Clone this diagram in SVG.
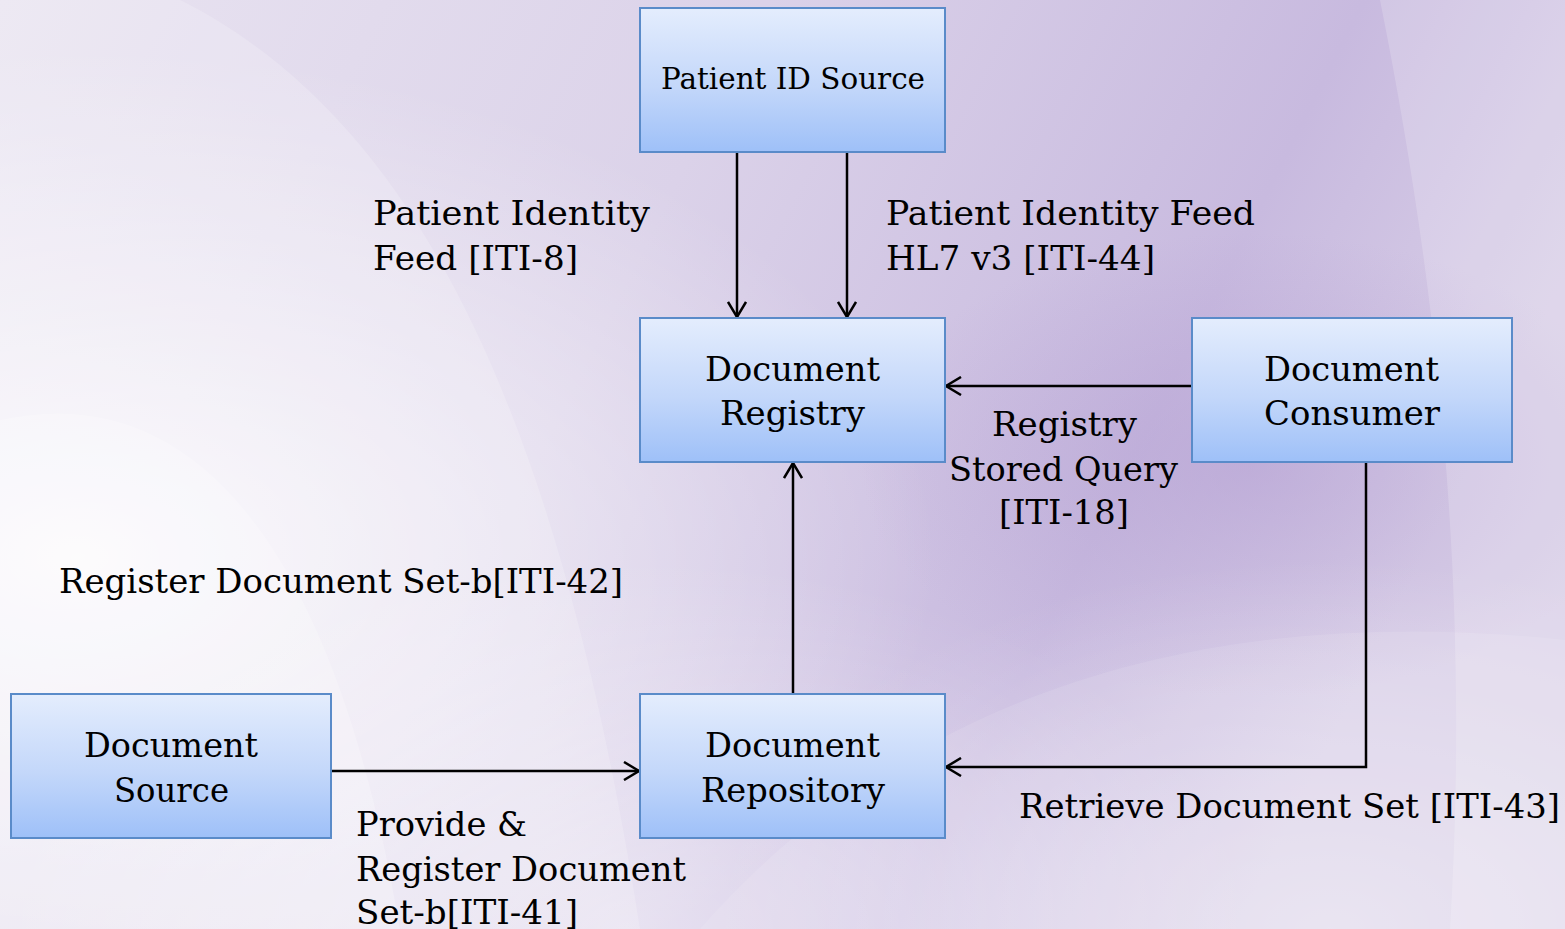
<svg xmlns="http://www.w3.org/2000/svg" width="1565" height="929" viewBox="0 0 1565 929">
  <defs>
    <linearGradient id="bg" x1="0" y1="0" x2="1" y2="0.3">
      <stop offset="0" stop-color="#e9e4f1"/>
      <stop offset="0.45" stop-color="#dbd2e9"/>
      <stop offset="0.8" stop-color="#c8badf"/>
      <stop offset="1" stop-color="#d8cee7"/>
    </linearGradient>
    <radialGradient id="glowL" cx="0.05" cy="0.6" r="0.55">
      <stop offset="0" stop-color="#ffffff" stop-opacity="0.85"/>
      <stop offset="1" stop-color="#ffffff" stop-opacity="0"/>
    </radialGradient>
    <radialGradient id="glowB" cx="0.4" cy="1" r="0.4">
      <stop offset="0" stop-color="#ffffff" stop-opacity="0.5"/>
      <stop offset="1" stop-color="#ffffff" stop-opacity="0"/>
    </radialGradient>
    <radialGradient id="glowBR" cx="0.85" cy="1" r="0.4">
      <stop offset="0" stop-color="#ffffff" stop-opacity="0.4"/>
      <stop offset="1" stop-color="#ffffff" stop-opacity="0"/>
    </radialGradient>
    <radialGradient id="dark" cx="0.8" cy="0.5" r="0.25">
      <stop offset="0" stop-color="#b09ad0" stop-opacity="0.5"/>
      <stop offset="1" stop-color="#b09ad0" stop-opacity="0"/>
    </radialGradient>
    <linearGradient id="box" x1="0" y1="0" x2="0" y2="1">
      <stop offset="0" stop-color="#e4edfd"/>
      <stop offset="0.55" stop-color="#c3d7fa"/>
      <stop offset="1" stop-color="#9ec0f8"/>
    </linearGradient>
    <marker id="arr" viewBox="0 0 20 20" refX="18" refY="10" markerWidth="20" markerHeight="20" markerUnits="userSpaceOnUse" orient="auto">
      <path d="M3,1 L18,10 L3,19" fill="none" stroke="#000" stroke-width="2.5"/>
    </marker>
  </defs>
  <style>
    .node rect { fill: url(#box); stroke: #5a8bc9; stroke-width: 2; }
    .t { font-family: "DejaVu Serif", "Liberation Serif", serif; font-size: 33px; fill: #000; }
    .s { font-size: 30px; }
    .conn path { fill: none; stroke: #000; stroke-width: 2.5; }
  </style>

  <!-- background -->
  <rect x="0" y="0" width="1565" height="929" fill="url(#bg)"/>
  <rect x="0" y="0" width="1565" height="929" fill="url(#dark)"/>
  <rect x="0" y="0" width="1565" height="929" fill="url(#glowL)"/>
  <rect x="0" y="0" width="1565" height="929" fill="url(#glowB)"/>
  <rect x="0" y="0" width="1565" height="929" fill="url(#glowBR)"/>
  <path d="M0,0 L180,0 C420,120 560,420 640,929 L0,929 Z" fill="#ffffff" opacity="0.18"/>
  <path d="M0,420 C180,380 330,520 400,929 L0,929 Z" fill="#ffffff" opacity="0.22"/>
  <path d="M1380,0 L1565,0 L1565,929 L1450,929 C1470,600 1440,300 1380,0 Z" fill="#ffffff" opacity="0.18"/>
  <path d="M700,929 C900,700 1200,600 1565,640 L1565,929 Z" fill="#ffffff" opacity="0.1"/>

  <!-- connectors -->
  <g id="connectors" class="conn">
    <path d="M737,153 V317" marker-end="url(#arr)"/>
    <path d="M847,153 V317" marker-end="url(#arr)"/>
    <path d="M1192,386 H946" marker-end="url(#arr)"/>
    <path d="M793,693 V463" marker-end="url(#arr)"/>
    <path d="M332,771 H639" marker-end="url(#arr)"/>
    <path d="M1366,463 V767 H946" marker-end="url(#arr)"/>
  </g>

  <!-- nodes -->
  <g id="patient-id-source" class="node">
    <rect x="640" y="8" width="305" height="144"/>
    <text class="t s" x="661" y="89" textLength="264" lengthAdjust="spacingAndGlyphs">Patient ID Source</text>
  </g>
  <g id="document-registry" class="node">
    <rect x="640" y="318" width="305" height="144"/>
    <text class="t" x="705" y="381" textLength="175" lengthAdjust="spacingAndGlyphs">Document</text>
    <text class="t" x="720" y="425" textLength="145" lengthAdjust="spacingAndGlyphs">Registry</text>
  </g>
  <g id="document-consumer" class="node">
    <rect x="1192" y="318" width="320" height="144"/>
    <text class="t" x="1264" y="381" textLength="175" lengthAdjust="spacingAndGlyphs">Document</text>
    <text class="t" x="1264" y="425" textLength="176" lengthAdjust="spacingAndGlyphs">Consumer</text>
  </g>
  <g id="document-source" class="node">
    <rect x="11" y="694" width="320" height="144"/>
    <text class="t" x="84" y="757" textLength="174" lengthAdjust="spacingAndGlyphs">Document</text>
    <text class="t" x="114" y="802" textLength="115" lengthAdjust="spacingAndGlyphs">Source</text>
  </g>
  <g id="document-repository" class="node">
    <rect x="640" y="694" width="305" height="144"/>
    <text class="t" x="705" y="757" textLength="175" lengthAdjust="spacingAndGlyphs">Document</text>
    <text class="t" x="701" y="802" textLength="184" lengthAdjust="spacingAndGlyphs">Repository</text>
  </g>

  <!-- connector labels -->
  <g id="labels">
    <text class="t" x="373" y="225" textLength="277" lengthAdjust="spacingAndGlyphs">Patient Identity</text>
    <text class="t" x="373" y="270" textLength="205" lengthAdjust="spacingAndGlyphs">Feed [ITI-8]</text>
    <text class="t" x="886" y="225" textLength="369" lengthAdjust="spacingAndGlyphs">Patient Identity Feed</text>
    <text class="t" x="886" y="270" textLength="269" lengthAdjust="spacingAndGlyphs">HL7 v3 [ITI-44]</text>
    <text class="t" x="992" y="436" textLength="145" lengthAdjust="spacingAndGlyphs">Registry</text>
    <text class="t" x="949" y="481" textLength="229" lengthAdjust="spacingAndGlyphs">Stored Query</text>
    <text class="t" x="999" y="524" textLength="130" lengthAdjust="spacingAndGlyphs">[ITI-18]</text>
    <text class="t" x="59" y="593" textLength="564" lengthAdjust="spacingAndGlyphs">Register Document Set-b[ITI-42]</text>
    <text class="t" x="356" y="836" textLength="171" lengthAdjust="spacingAndGlyphs">Provide &amp;</text>
    <text class="t" x="356" y="881" textLength="330" lengthAdjust="spacingAndGlyphs">Register Document</text>
    <text class="t" x="356" y="924" textLength="222" lengthAdjust="spacingAndGlyphs">Set-b[ITI-41]</text>
    <text class="t" x="1019" y="818" textLength="541" lengthAdjust="spacingAndGlyphs">Retrieve Document Set [ITI-43]</text>
  </g>
</svg>
